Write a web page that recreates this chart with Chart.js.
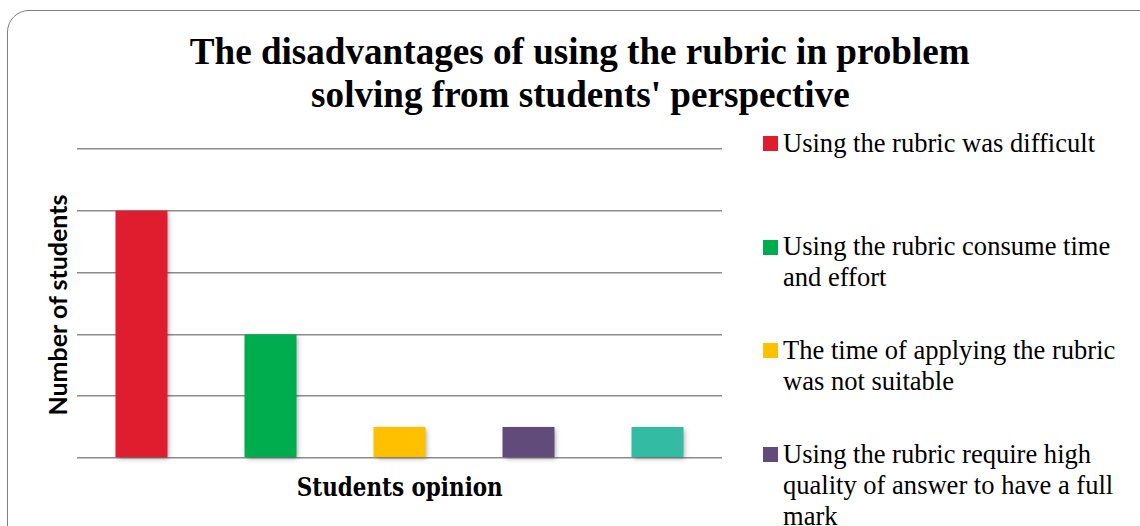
<!DOCTYPE html>
<html><head><meta charset="utf-8">
<script src="https://cdn.jsdelivr.net/npm/chart.js@4.4.0/dist/chart.umd.min.js"></script>
<style>
html,body{margin:0;padding:0;width:1140px;height:526px;overflow:hidden;background:#fff;}
#frame{position:absolute;left:7px;top:10px;width:1180px;height:600px;border:1.5px solid #7f7f7f;border-radius:22px;box-sizing:border-box;}
.t{position:absolute;white-space:nowrap;margin:0;padding:0;color:#000;}
.sq{position:absolute;width:15px;height:15px;}
#plot{position:absolute;left:77px;top:139px;}
</style></head><body>
<div id="frame"></div>
<div id="texts"></div>
<canvas id="plot" width="645" height="326"></canvas>
<script>
// ---- data ----
const titleLines = ["The disadvantages of using the rubric in problem", "solving from students' perspective"];
const xAxisTitle = "Students opinion";
const yAxisTitle = "Number of students";
const categories = [
  ["Using the rubric was difficult"],
  ["Using the rubric consume time", "and effort"],
  ["The time of applying the rubric", "was not suitable"],
  ["Using the rubric require high", "quality of answer to have a full", "mark"],
  ["Other disadvantages"]
];
const studentCounts = [4, 2, 0.5, 0.5, 0.5];
const barColors = ["#E01D2E", "#00AD4E", "#FFC000", "#604B7B", "#33BCA3"];
const yTicks = [0, 1, 2, 3, 4, 5];

// ---- text helpers ----
const mc = document.createElement('canvas').getContext('2d');
function metrics(font, text){ mc.font = font; return mc.measureText(text); }
const holder = document.getElementById('texts');
function addText(text, family, size, weight, opts){
  const font = `${weight} ${size}px ${family}`;
  const m = metrics(font, text);
  const fA = m.fontBoundingBoxAscent, fD = m.fontBoundingBoxDescent;
  const b = (size - (fA + fD)) / 2 + fA; // baseline offset in a line-height:size box
  const w = m.width;
  const s = opts.scale !== undefined ? opts.scale : (opts.target ? opts.target / w : 1);
  const el = document.createElement('div');
  el.className = 't';
  el.textContent = text;
  el.style.font = font;
  el.style.lineHeight = size + 'px';
  el.style.height = size + 'px';
  el.style.width = w + 'px';
  if (opts.rotate) {
    const cx = opts.baselineX - (b - size / 2);
    el.style.left = (cx - w / 2) + 'px';
    el.style.top = (opts.cy - size / 2) + 'px';
    el.style.transformOrigin = '50% 50%';
    el.style.transform = `rotate(-90deg) scaleX(${s})`;
  } else if (opts.cx !== undefined) {
    el.style.left = (opts.cx - w / 2) + 'px';
    el.style.top = (opts.baseline - b) + 'px';
    el.style.transformOrigin = '50% 50%';
    el.style.transform = `scaleX(${s})`;
  } else {
    el.style.left = opts.left + 'px';
    el.style.top = (opts.baseline - b) + 'px';
    el.style.transformOrigin = '0 50%';
    el.style.transform = `scaleX(${s})`;
  }
  holder.appendChild(el);
  return s;
}

function layoutTexts(){
  holder.innerHTML = '';
  const serif = '"Liberation Serif", "Times New Roman", serif';
  const ts = addText(titleLines[0], serif, 37, 'bold', {cx: 580, baseline: 64, target: 780});
  addText(titleLines[1], serif, 37, 'bold', {cx: 580, baseline: 107, scale: ts});
  addText(xAxisTitle, '"DejaVu Serif", serif', 26, 'bold', {cx: 400, baseline: 496, target: 206});
  addText(yAxisTitle, 'Lato, "Open Sans", sans-serif', 25, 'bold', {rotate: true, baselineX: 67, cy: 304, target: 222});
  let ls;
  categories.forEach((lines, i) => {
    const off = 103.7 * i;
    const sq = document.createElement('div');
    sq.className = 'sq';
    sq.style.left = '763px';
    sq.style.top = (136 + off) + 'px';
    sq.style.background = barColors[i];
    holder.appendChild(sq);
    lines.forEach((ln, j) => {
      const o = {left: 783, baseline: 152 + off + 31 * j};
      if (ls === undefined) { o.target = 312; ls = addText(ln, serif, 27, 'normal', o); }
      else { o.scale = ls; addText(ln, serif, 27, 'normal', o); }
    });
  });
}
layoutTexts();
if (document.fonts && document.fonts.ready) document.fonts.ready.then(layoutTexts);

// ---- chart ----
const barShadow = {
  id: 'barShadow',
  beforeDatasetsDraw(c){ const x = c.ctx; x.save(); x.shadowColor = 'rgba(0,0,0,0.35)'; x.shadowBlur = 5; x.shadowOffsetX = 2; x.shadowOffsetY = 2; },
  afterDatasetsDraw(c){ c.ctx.restore(); }
};

new Chart(document.getElementById('plot'), {
  type: 'bar',
  data: {
    labels: categories,
    datasets: [{ data: studentCounts, backgroundColor: barColors, barPercentage: 0.403, categoryPercentage: 1, clip: false }]
  },
  options: {
    responsive: false,
    animation: false,
    devicePixelRatio: 1,
    layout: { padding: { top: 10, bottom: 7, left: 0, right: 0 } },
    plugins: { legend: { display: false }, tooltip: { enabled: false }, title: { display: false } },
    scales: {
      x: {
        grid: { display: false }, border: { display: false }, ticks: { display: false },
        afterFit: s => { s.height = 0; }
      },
      y: {
        min: 0, max: 5,
        afterBuildTicks: s => { s.ticks = yTicks.map(v => ({ value: v })); },
        grid: { color: '#8c8c8c', lineWidth: 1.5, drawTicks: false },
        border: { display: false },
        ticks: { display: false },
        afterFit: s => { s.width = 0; }
      }
    }
  },
  plugins: [barShadow]
});
</script>
</body></html>
